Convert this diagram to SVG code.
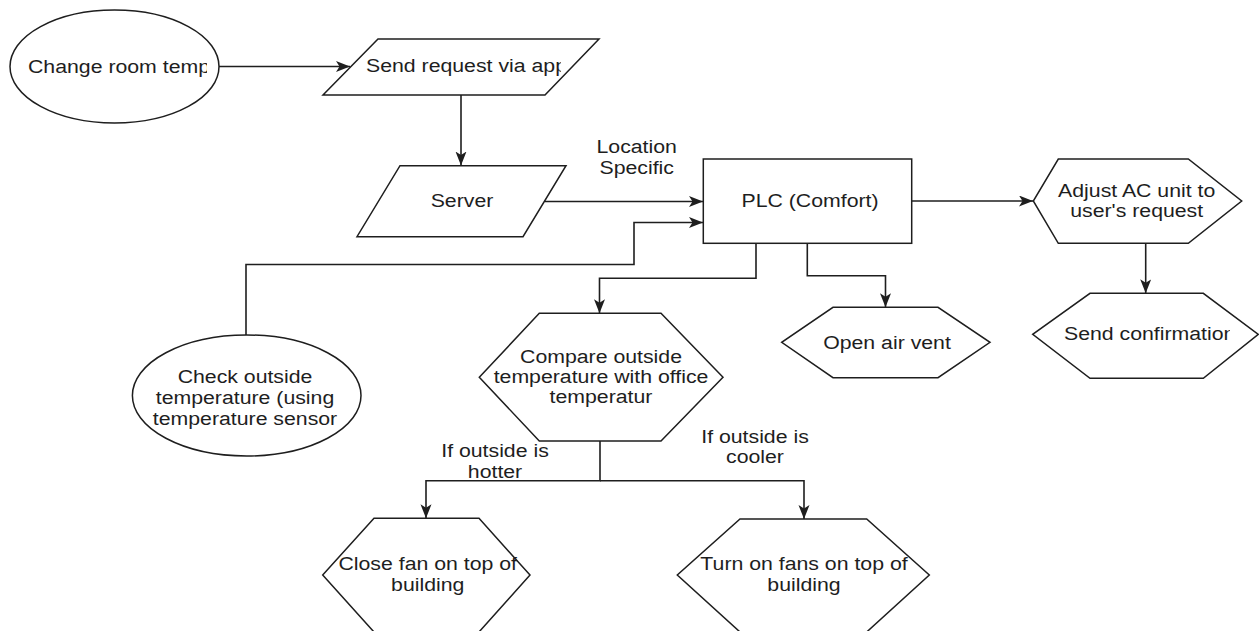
<svg xmlns="http://www.w3.org/2000/svg" width="1259" height="631" viewBox="0 0 1259 631">
  <style>
    .shape { fill: #ffffff; stroke: #1e1e1e; stroke-width: 1.5; }
    .edge { fill: none; stroke: #1e1e1e; stroke-width: 1.6; }
    .t { font-family: "Liberation Sans", Arial, sans-serif; font-size: 19px; fill: #1e1e1e; text-anchor: middle; }
    .ts { font-family: "Liberation Sans", Arial, sans-serif; font-size: 19px; fill: #1e1e1e; text-anchor: start; }
  </style>
  <defs>
    <marker id="arrow" markerUnits="userSpaceOnUse" markerWidth="15" markerHeight="12" refX="14" refY="5.5" orient="auto">
      <path d="M0,0 L14,5.5 L0,11 L3.5,5.5 Z" fill="#1e1e1e"/>
    </marker>
    <clipPath id="clipChange"><rect x="10" y="40" width="197" height="50"/></clipPath>
    <clipPath id="clipSend"><rect x="330" y="40" width="231" height="50"/></clipPath>
    <clipPath id="clipConfirm"><rect x="1040" y="310" width="190" height="50"/></clipPath>
  </defs>

  <g id="connectors">
    <path class="edge" d="M219,66.5 H350" marker-end="url(#arrow)"/>
    <path class="edge" d="M461,95 V165.5" marker-end="url(#arrow)"/>
    <path class="edge" d="M545,201.5 H703" marker-end="url(#arrow)"/>
    <path class="edge" d="M246,335 V264.5 H634 V222.5 H703" marker-end="url(#arrow)"/>
    <path class="edge" d="M911.7,201 H1033" marker-end="url(#arrow)"/>
    <path class="edge" d="M1145.7,243.3 V293.3" marker-end="url(#arrow)"/>
    <path class="edge" d="M756,243.3 V278.3 H599.5 V313.3" marker-end="url(#arrow)"/>
    <path class="edge" d="M807.3,243.3 V275.7 H885.5 V307.3" marker-end="url(#arrow)"/>
    <path class="edge" d="M600,441 V480.7 H426 V518.3" marker-end="url(#arrow)"/>
    <path class="edge" d="M600,480.7 H804 V519" marker-end="url(#arrow)"/>
    <text class="t" transform="translate(636.7 146.7) scale(1.12 1)"><tspan x="0" dy="6.5">Location</tspan><tspan x="0" dy="21">Specific</tspan></text>
    <text class="t" transform="translate(495 450.7) scale(1.12 1)"><tspan x="0" dy="6.5">If outside is</tspan><tspan x="0" dy="21">hotter</tspan></text>
    <text class="t" transform="translate(755 436) scale(1.12 1)"><tspan x="0" dy="6.5">If outside is</tspan><tspan x="0" dy="21">cooler</tspan></text>
  </g>

  <g id="change-room-temp">
    <ellipse class="shape" cx="114.5" cy="66.5" rx="104.5" ry="56.5"/>
    <g clip-path="url(#clipChange)">
      <text class="ts" transform="translate(28 66) scale(1.12 1)" y="6.5">Change room temp</text>
    </g>
  </g>

  <g id="send-request">
    <polygon class="shape" points="378,39 599,39 545,95 323,95"/>
    <g clip-path="url(#clipSend)">
      <text class="ts" transform="translate(366 65.5) scale(1.12 1)" y="6.5">Send request via app</text>
    </g>
  </g>

  <g id="server">
    <polygon class="shape" points="400,165.7 566,165.7 523,236.7 357,236.7"/>
    <text class="t" transform="translate(462 200.5) scale(1.12 1)" y="6.5">Server</text>
  </g>

  <g id="plc">
    <rect class="shape" x="703.3" y="159" width="208.4" height="84.3"/>
    <text class="t" transform="translate(810 200.5) scale(1.12 1)" y="6.5">PLC (Comfort)</text>
  </g>

  <g id="adjust-ac">
    <polygon class="shape" points="1058.3,159 1188.3,159 1241.7,201 1188.3,243.3 1058.3,243.3 1033.3,201"/>
    <text class="t" transform="translate(1136.7 190) scale(1.12 1)"><tspan x="0" dy="6.5">Adjust AC unit to</tspan><tspan x="0" dy="21">user's request</tspan></text>
  </g>

  <g id="send-confirmation">
    <polygon class="shape" points="1090,293.3 1203.3,293.3 1258.3,334.3 1203.3,378.3 1090,378.3 1032.7,334.3"/>
    <g clip-path="url(#clipConfirm)">
      <text class="ts" transform="translate(1064 333.5) scale(1.12 1)" y="6.5">Send confirmation</text>
    </g>
  </g>

  <g id="open-air-vent">
    <polygon class="shape" points="833,307.3 938,307.3 990,342.3 938,377.7 833,377.7 781.7,342.3"/>
    <text class="t" transform="translate(887 342) scale(1.12 1)" y="6.5">Open air vent</text>
  </g>

  <g id="compare-temperature">
    <polygon class="shape" points="539.3,313.3 661,313.3 723,377.3 661,441 539.3,441 479.3,377.3"/>
    <text class="t" transform="translate(601 356.7) scale(1.12 1)"><tspan x="0" dy="6.5">Compare outside</tspan><tspan x="0" dy="20.3">temperature with office</tspan><tspan x="0" dy="19.7">temperatur</tspan></text>
  </g>

  <g id="check-outside">
    <ellipse class="shape" cx="246.7" cy="395.5" rx="114.3" ry="60.5"/>
    <text class="t" transform="translate(245 376.7) scale(1.12 1)"><tspan x="0" dy="6.5">Check outside</tspan><tspan x="0" dy="21.3">temperature (using</tspan><tspan x="0" dy="20.3">temperature sensor</tspan></text>
  </g>

  <g id="close-fan">
    <polygon class="shape" points="374,518.3 479,518.3 530,575 479,632 374,632 322.7,575"/>
    <text class="t" transform="translate(427.7 563.3) scale(1.12 1)"><tspan x="0" dy="6.5">Close fan on top of</tspan><tspan x="0" dy="21">building</tspan></text>
  </g>

  <g id="turn-on-fans">
    <polygon class="shape" points="740,519 866.7,519 929.3,575 866.7,632 740,632 677.3,575"/>
    <text class="t" transform="translate(804 563.3) scale(1.12 1)"><tspan x="0" dy="6.5">Turn on fans on top of</tspan><tspan x="0" dy="21.5">building</tspan></text>
  </g>
</svg>
